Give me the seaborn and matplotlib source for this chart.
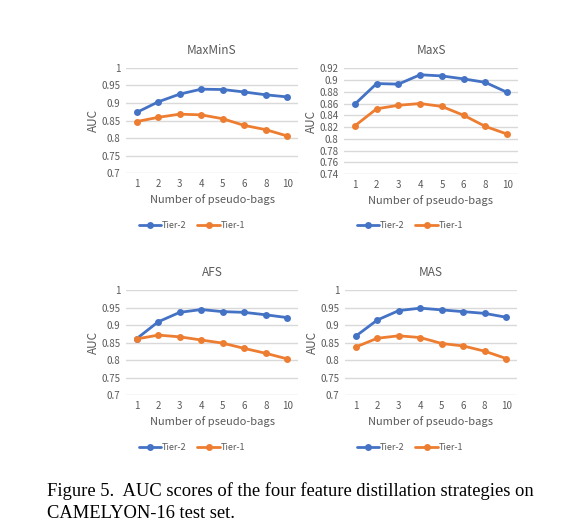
import numpy as np
import pandas as pd
import seaborn as sns
import matplotlib
matplotlib.use('Agg')
import matplotlib.pyplot as plt
from matplotlib.ticker import FuncFormatter

# datos
bags = ['1', '2', '3', '4', '5', '6', '8', '10']
series_names = ['Tier-2', 'Tier-1']
colors = ['#4472C4', '#ED7D31']

maxmins_t2 = [0.873, 0.903, 0.925, 0.939, 0.938, 0.931, 0.923, 0.917]
maxmins_t1 = [0.847, 0.859, 0.868, 0.866, 0.855, 0.836, 0.824, 0.806]
maxs_t2 = [0.859, 0.894, 0.893, 0.909, 0.907, 0.902, 0.896, 0.879]
maxs_t1 = [0.822, 0.851, 0.857, 0.860, 0.855, 0.840, 0.821, 0.808]
afs_t2 = [0.862, 0.910, 0.937, 0.945, 0.939, 0.937, 0.930, 0.922]
afs_t1 = [0.861, 0.872, 0.867, 0.858, 0.849, 0.834, 0.820, 0.804]
mas_t2 = [0.869, 0.915, 0.942, 0.949, 0.944, 0.939, 0.934, 0.923]
mas_t1 = [0.838, 0.863, 0.870, 0.865, 0.848, 0.841, 0.826, 0.805]

titles = ['MaxMinS', 'MaxS', 'AFS', 'MAS']
yticks_list = [np.arange(0.7, 1.001, 0.05), np.arange(0.74, 0.921, 0.02),
               np.arange(0.7, 1.001, 0.05), np.arange(0.7, 1.001, 0.05)]
caption = ['Figure 5.  AUC scores of the four feature distillation strategies on',
           'CAMELYON-16 test set.']

sns.set_style('white')
plt.rcParams['font.family'] = ['Noto Sans CJK SC', 'DejaVu Sans']

W, H = 588, 531
fig = plt.figure(figsize=(W / 100, H / 100), dpi=100)

# posiciones en pixeles: izquierda, derecha, arriba, abajo
rects = [(126, 298, 67.7, 173.3), (344, 518, 68.3, 174.0),
         (126, 298, 290.3, 395.3), (345, 517, 290.3, 395.3)]
legend_x = [192, 410, 192, 410]
legend_y = [226, 226, 448, 448]
data = [(maxmins_t2, maxmins_t1), (maxs_t2, maxs_t1),
        (afs_t2, afs_t1), (mas_t2, mas_t1)]

gray = '#595959'
for i in range(4):
    l, r, t, b = rects[i]
    ax = fig.add_axes([l / W, 1 - b / H, (r - l) / W, (b - t) / H])
    t2, t1 = data[i]
    df = pd.DataFrame({'bags': bags * 2,
                       'AUC': t2 + t1,
                       'serie': [series_names[0]] * len(bags) + [series_names[1]] * len(bags)})
    sns.lineplot(data=df, x='bags', y='AUC', hue='serie', hue_order=series_names,
                 palette=colors, marker='o', markersize=5, markeredgewidth=0,
                 linewidth=2, sort=False, ax=ax)
    yt = yticks_list[i]
    ax.set_ylim(yt[0], yt[-1])
    ax.set_yticks(yt)
    ax.yaxis.set_major_formatter(FuncFormatter(lambda v, p: '{:g}'.format(round(v, 2))))
    ax.set_xlim(-0.5, len(bags) - 0.5)
    ax.grid(axis='y', color='#d9d9d9', linewidth=1)
    ax.grid(axis='x', visible=False)
    for s in ax.spines.values():
        s.set_visible(False)
    ax.tick_params(axis='both', length=0, labelsize=7, labelcolor=gray, pad=4)
    ax.set_title(titles[i], fontsize=8.5, color=gray, pad=10)
    ax.set_xlabel('Number of pseudo-bags', fontsize=8, color=gray, labelpad=4)
    ax.set_ylabel('AUC', fontsize=8.5, color=gray, labelpad=1)
    sns.move_legend(ax, 'center', bbox_to_anchor=(legend_x[i] / W, 1 - legend_y[i] / H),
                    bbox_transform=fig.transFigure, ncol=2, frameon=False, title=None,
                    fontsize=6.5, handlelength=2.5, handletextpad=0.1, columnspacing=1.2,
                    labelcolor=gray)

fig.text(47 / W, 1 - 491 / H, caption[0], family='Liberation Serif', fontsize=13.3,
         va='center', ha='left', color='black')
fig.text(47 / W, 1 - 513 / H, caption[1], family='Liberation Serif', fontsize=13.3,
         va='center', ha='left', color='black')

fig.savefig('out.png', dpi=100)
